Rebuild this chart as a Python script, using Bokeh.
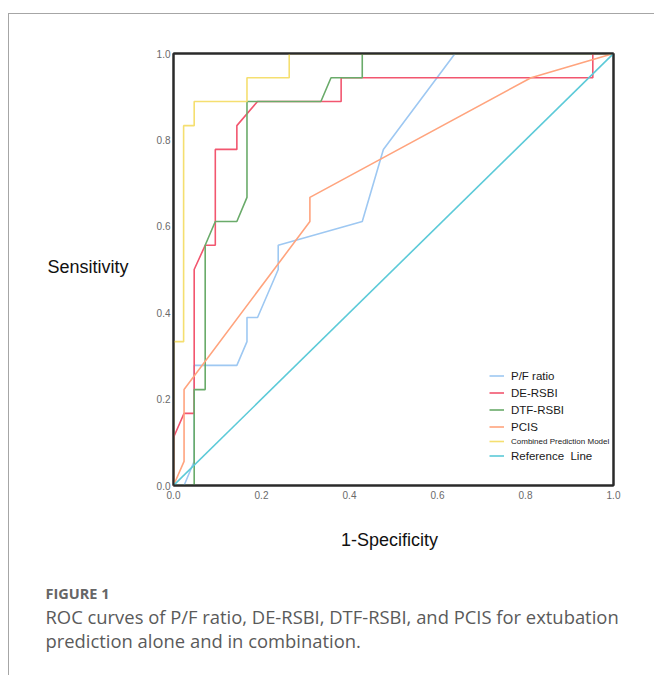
from bokeh.plotting import figure
from bokeh.layouts import column, row
from bokeh.models import Range1d, FixedTicker, Legend, LegendItem, Label, LinearAxis
from bokeh.embed import file_html
from bokeh.resources import INLINE

tick_values = [0.0, 0.2, 0.4, 0.6, 0.8, 1.0]
tick_labels = ["0.0", "0.2", "0.4", "0.6", "0.8", "1.0"]

# ROC curves (1-Specificity, Sensitivity)
pf_x = [0, 0.024, 0.047, 0.047, 0.144, 0.167, 0.167, 0.191, 0.238, 0.238, 0.429, 0.477, 0.640, 1.0]
pf_y = [0, 0, 0.056, 0.278, 0.278, 0.333, 0.389, 0.389, 0.500, 0.556, 0.611, 0.778, 1.0, 1.0]

de_x = [0, 0, 0.024, 0.047, 0.047, 0.072, 0.095, 0.095, 0.144, 0.144, 0.191, 0.381, 0.381, 0.953, 0.953, 1.0]
de_y = [0, 0.111, 0.167, 0.167, 0.500, 0.556, 0.556, 0.778, 0.778, 0.833, 0.889, 0.889, 0.944, 0.944, 1.0, 1.0]

dtf_x = [0, 0.047, 0.047, 0.072, 0.072, 0.095, 0.144, 0.167, 0.167, 0.335, 0.358, 0.429, 0.429, 1.0]
dtf_y = [0, 0, 0.222, 0.222, 0.556, 0.611, 0.611, 0.667, 0.889, 0.889, 0.944, 0.944, 1.0, 1.0]

pcis_x = [0, 0.024, 0.024, 0.310, 0.310, 0.8125, 1.0]
pcis_y = [0, 0.056, 0.222, 0.611, 0.667, 0.944, 1.0]

comb_x = [0, 0, 0.023, 0.023, 0.047, 0.047, 0.167, 0.167, 0.263, 0.263, 1.0]
comb_y = [0, 0.333, 0.333, 0.833, 0.833, 0.889, 0.889, 0.944, 0.944, 1.0, 1.0]

ref_x = [0, 1]
ref_y = [0, 1]

series_names = ["P/F ratio", "DE-RSBI", "DTF-RSBI", "PCIS", "Combined Prediction Model", "Reference  Line"]
colors = ["#9ec8f2", "#f2566f", "#6aab6a", "#ffa47e", "#f5df70", "#5ccad8"]

x_title = "1-Specificity"
y_title = "Sensitivity"
fig_label = "FIGURE 1"
caption_lines = ["ROC curves of P/F ratio, DE-RSBI, DTF-RSBI, and PCIS for extubation",
                 "prediction alone and in combination."]

FONT = "Liberation Sans"
CAP_FONT = "Open Sans"
FRAME = "#2a2a2a"

TOP_H = 496

# ---- main ROC figure ----
p = figure(width=525, height=TOP_H, output_backend="svg", toolbar_location=None,
           x_range=Range1d(0, 1), y_range=Range1d(0, 1),
           min_border_left=44, min_border_right=41, min_border_top=39, min_border_bottom=25,
           background_fill_color="white", border_fill_color="white")
p.title = None
p.outline_line_color = FRAME
p.outline_line_width = 2
p.grid.visible = False

x_axis_main = p.below[0]
y_axis_main = p.left[0]

# extra axes on top and right so the black frame is drawn over the curves
top_axis = LinearAxis(ticker=FixedTicker(ticks=[]))
right_axis = LinearAxis(ticker=FixedTicker(ticks=[]))
p.add_layout(top_axis, "above")
p.add_layout(right_axis, "right")

for ax in (x_axis_main, y_axis_main, top_axis, right_axis):
    ax.axis_line_color = FRAME
    ax.axis_line_width = 2
    ax.major_tick_out = 0
    ax.major_tick_in = 0
    ax.minor_tick_line_color = None
    ax.major_tick_line_color = None

for ax in (x_axis_main, y_axis_main):
    ax.ticker = FixedTicker(ticks=tick_values)
    ax.major_label_overrides = {v: l for v, l in zip(tick_values, tick_labels)}
    ax.major_label_text_font = FONT
    ax.major_label_text_font_size = "10px"
    ax.major_label_text_color = "#6a6a6a"
y_axis_main.major_label_standoff = 3
x_axis_main.major_label_standoff = 5

xs = [pf_x, de_x, dtf_x, pcis_x, comb_x, ref_x]
ys = [pf_y, de_y, dtf_y, pcis_y, comb_y, ref_y]
rs = []
for x, y, c in zip(xs, ys, colors):
    rs.append(p.line(x, y, line_color=c, line_width=1.6))

def make_legend(items, vx, vy, size, gh):
    lg = Legend(items=items, location=(vx, vy), border_line_color=None,
                background_fill_alpha=0, padding=0, margin=0, spacing=0,
                glyph_width=15, glyph_height=gh, label_height=gh, label_standoff=7,
                label_text_font=FONT, label_text_font_size=size, label_text_color="#1a1a1a")
    p.add_layout(lg, "center")

make_legend([LegendItem(label=series_names[i], renderers=[rs[i]]) for i in range(4)], 316, 50, "11.5px", 17)
make_legend([LegendItem(label=series_names[4], renderers=[rs[4]])], 316, 37, "8px", 14)
make_legend([LegendItem(label=series_names[5], renderers=[rs[5]])], 316, 21, "11.5px", 17)

def text_fig(w, h):
    f = figure(width=w, height=h, output_backend="svg", toolbar_location=None,
               x_range=Range1d(0, 1), y_range=Range1d(0, 1),
               x_axis_type=None, y_axis_type=None, min_border=0,
               background_fill_color="white", border_fill_color="white")
    f.title = None
    f.outline_line_color = None
    f.grid.visible = False
    return f

def lab(f, text, x, y, size, color, align="left", font=FONT, style="normal"):
    f.add_layout(Label(x=x, y=y, x_units="screen", y_units="screen", text=text,
                       text_font=font, text_font_size=size, text_color=color,
                       text_align=align, text_baseline="middle", text_font_style=style))

# ---- y-axis title panel (its frame is aligned with the ROC frame) ----
fs = text_fig(120, TOP_H)
lab(fs, y_title, 38, 219, "18px", "#111111")

# ---- x-axis title and caption panel ----
fc = text_fig(645, 165)
lab(fc, x_title, 380, 136, "18px", "#111111", align="center")
lab(fc, fig_label, 36, 82, "14.5px", "#666666", font=CAP_FONT, style="bold")
lab(fc, caption_lines[0], 36, 59, "18.4px", "#5a5a5a", font=CAP_FONT)
lab(fc, caption_lines[1], 36, 35, "18.4px", "#5a5a5a", font=CAP_FONT)

layout = column(row(fs, p), fc)
layout.styles = {"border-top": "1px solid #a6a6a6", "border-left": "1px solid #a6a6a6",
                 "margin-top": "13px", "margin-left": "8px"}

open("out.html", "w").write(file_html(layout, INLINE))
